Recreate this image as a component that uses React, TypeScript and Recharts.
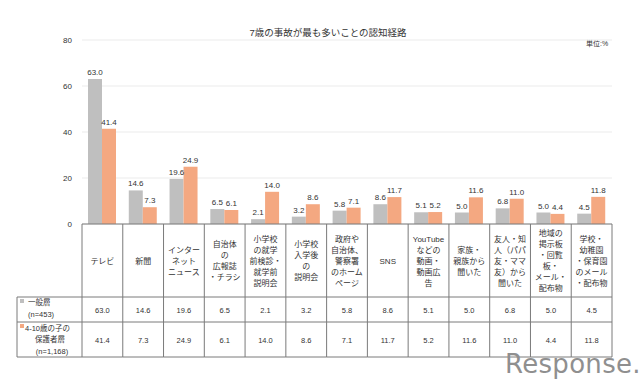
import React from "react";
import { BarChart, Bar, XAxis, YAxis, CartesianGrid, LabelList } from "recharts";

const categoryLines: string[][] = [
  ["テレビ"],
  ["新聞"],
  ["インター", "ネット", "ニュース"],
  ["自治体", "の", "広報誌", "・チラシ"],
  ["小学校", "の就学", "前検診・", "就学前", "説明会"],
  ["小学校", "入学後", "の", "説明会"],
  ["政府や", "自治体、", "警察署", "のホーム", "ページ"],
  ["SNS"],
  ["YouTube", "などの", "動画・", "動画広", "告"],
  ["家族・", "親族から", "聞いた"],
  ["友人・知", "人（パパ", "友・ママ", "友）から", "聞いた"],
  ["地域の", "掲示板", "・回覧", "板・", "メール・", "配布物"],
  ["学校・", "幼稚園", "・保育園", "のメール", "・配布物"],
];
const categories = categoryLines.map((l) => l.join(""));
const generalValues = [63.0, 14.6, 19.6, 6.5, 2.1, 3.2, 5.8, 8.6, 5.1, 5.0, 6.8, 5.0, 4.5];
const parentValues = [41.4, 7.3, 24.9, 6.1, 14.0, 8.6, 7.1, 11.7, 5.2, 11.6, 11.0, 4.4, 11.8];
const yTicks = [0, 20, 40, 60, 80];
const seriesNames = ["一般層", "4-10歳の子の保護者層"];

const data = categories.map((name, i) => ({
  name,
  general: generalValues[i],
  parent: parentValues[i],
}));

const GRAY = "#BFBFBF";
const ORANGE = "#F4A881";
const LINE = "#7a7a7a";
const TEXT = "#333333";
const JP = "'Liberation Sans', 'Noto Sans CJK JP', sans-serif";

const PLOT_LEFT = 82;
const PLOT_RIGHT = 612;
const COL_W = (PLOT_RIGHT - PLOT_LEFT) / categories.length;
const AXIS_Y = 224;
const ROW1_TOP = 297;
const ROW2_TOP = 322;
const TABLE_BOTTOM = 357;
const TABLE_LEFT = 17;
const HEADER_MID = 261;

const fmt = (v: any) => Number(v).toFixed(1);

const renderTick = (props: any) => {
  const { x, payload } = props;
  const i: number = payload.index;
  const left = x - COL_W / 2;
  const right = x + COL_W / 2;
  const lines = categoryLines[i] || [];
  const lh = 11;
  const startY = HEADER_MID - ((lines.length - 1) * lh) / 2;
  return (
    <g>
      <line x1={left} x2={left} y1={AXIS_Y} y2={TABLE_BOTTOM} stroke={LINE} strokeWidth={1} />
      {i === categories.length - 1 && (
        <line x1={right} x2={right} y1={AXIS_Y} y2={TABLE_BOTTOM} stroke={LINE} strokeWidth={1} />
      )}
      <line x1={left} x2={right} y1={ROW1_TOP} y2={ROW1_TOP} stroke={LINE} strokeWidth={1} />
      <line x1={left} x2={right} y1={ROW2_TOP} y2={ROW2_TOP} stroke={LINE} strokeWidth={1} />
      <line x1={left} x2={right} y1={TABLE_BOTTOM} y2={TABLE_BOTTOM} stroke={LINE} strokeWidth={1} />
      <text textAnchor="middle" fontSize={8} fill={TEXT} fontFamily={JP}>
        {lines.map((l, k) => (
          <tspan key={k} x={x} y={startY + k * lh} dominantBaseline="central">
            {l}
          </tspan>
        ))}
      </text>
      <text x={x} y={310} textAnchor="middle" dominantBaseline="central" fontSize={7.5} fill={TEXT} fontFamily={JP}>
        {fmt(generalValues[i])}
      </text>
      <text x={x} y={340} textAnchor="middle" dominantBaseline="central" fontSize={7.5} fill={TEXT} fontFamily={JP}>
        {fmt(parentValues[i])}
      </text>
      {i === 0 && (
        <g>
          <line x1={TABLE_LEFT} x2={left} y1={ROW1_TOP} y2={ROW1_TOP} stroke={LINE} strokeWidth={1} />
          <line x1={TABLE_LEFT} x2={left} y1={ROW2_TOP} y2={ROW2_TOP} stroke={LINE} strokeWidth={1} />
          <line x1={TABLE_LEFT} x2={left} y1={TABLE_BOTTOM} y2={TABLE_BOTTOM} stroke={LINE} strokeWidth={1} />
          <line x1={TABLE_LEFT} x2={TABLE_LEFT} y1={ROW1_TOP} y2={TABLE_BOTTOM} stroke={LINE} strokeWidth={1} />
          <rect x={20} y={299} width={4} height={4} fill={GRAY} />
          <text x={28} y={302} dominantBaseline="central" fontSize={7.5} fill={TEXT} fontFamily={JP}>
            {seriesNames[0]}
          </text>
          <text x={28} y={314} dominantBaseline="central" fontSize={7.5} fill={TEXT} fontFamily={JP}>
            (n=453)
          </text>
          <rect x={20} y={324} width={4} height={4} fill={ORANGE} />
          <text x={25} y={328} dominantBaseline="central" fontSize={7.5} fill={TEXT} fontFamily={JP}>
            4-10歳の子の
          </text>
          <text x={50} y={339.5} textAnchor="middle" dominantBaseline="central" fontSize={7.5} fill={TEXT} fontFamily={JP}>
            保護者層
          </text>
          <text x={52} y={351} textAnchor="middle" dominantBaseline="central" fontSize={7.5} fill={TEXT} fontFamily={JP}>
            (n=1,168)
          </text>
        </g>
      )}
    </g>
  );
};

export default function App() {
  return (
    <div style={{ position: "absolute", left: 0, top: 0, width: 640, height: 381, background: "#fff" }}>
      <div
        style={{
          position: "absolute",
          left: 0,
          width: 656,
          top: 27,
          textAlign: "center",
          fontSize: 9.5,
          lineHeight: "12px",
          color: TEXT,
          fontFamily: JP,
        }}
      >
        7歳の事故が最も多いことの認知経路
      </div>
      <div
        style={{
          position: "absolute",
          left: 586,
          top: 38,
          fontSize: 7,
          lineHeight: "12px",
          color: TEXT,
          fontFamily: JP,
          whiteSpace: "nowrap",
        }}
      >
        単位:%
      </div>
      <BarChart
        width={640}
        height={381}
        data={data}
        margin={{ top: 40, right: 640 - PLOT_RIGHT, left: 0, bottom: 381 - TABLE_BOTTOM - 1 }}
        barGap={0}
      >
        <CartesianGrid horizontal={true} vertical={false} stroke="#ebebeb" />
        <YAxis
          width={PLOT_LEFT}
          domain={[0, 80]}
          ticks={yTicks}
          axisLine={false}
          tickLine={false}
          tickSize={0}
          tickMargin={10}
          tick={{ fontSize: 8, fill: TEXT, fontFamily: JP }}
        />
        <XAxis
          dataKey="name"
          height={TABLE_BOTTOM + 1 - AXIS_Y}
          interval={0}
          tickLine={false}
          tickSize={0}
          axisLine={{ stroke: LINE, strokeWidth: 1 }}
          tick={renderTick}
        />
        <Bar dataKey="general" name={seriesNames[0]} fill={GRAY} barSize={14} isAnimationActive={false}>
          <LabelList dataKey="general" position="top" offset={4} formatter={fmt} style={{ fontSize: 8, fill: TEXT, fontFamily: JP }} />
        </Bar>
        <Bar dataKey="parent" name={seriesNames[1]} fill={ORANGE} barSize={14} isAnimationActive={false}>
          <LabelList dataKey="parent" position="top" offset={4} formatter={fmt} style={{ fontSize: 8, fill: TEXT, fontFamily: JP }} />
        </Bar>
      </BarChart>
      <div
        style={{
          position: "absolute",
          left: 505,
          top: 350,
          fontSize: 26,
          lineHeight: "28px",
          color: "#8f8f8f",
          fontFamily: "'DejaVu Sans', sans-serif",
          letterSpacing: 0.3,
          whiteSpace: "nowrap",
          pointerEvents: "none",
        }}
      >
        Response.
      </div>
    </div>
  );
}
